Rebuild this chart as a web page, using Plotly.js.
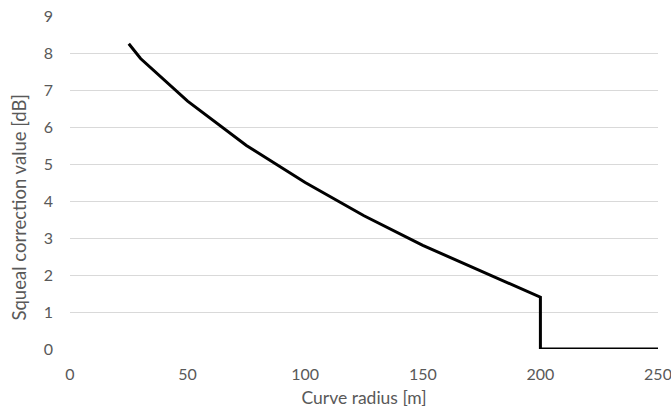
<!DOCTYPE html>
<html>
<head>
<meta charset="utf-8">
<script src="https://cdn.plot.ly/plotly-3.0.1.min.js"></script>
<style>html,body{margin:0;padding:0;background:#fff;}#chart{width:671px;height:410px;}</style>
</head>
<body>
<div id="chart"></div>
<script>
const radius = [25, 30, 50, 75, 100, 125, 150, 175, 200, 200, 250];
const correction = [8.25, 7.85, 6.7, 5.5, 4.5, 3.6, 2.8, 2.1, 1.4, 0, 0];
const xTicks = [0, 50, 100, 150, 200, 250];
const yTicks = [0, 1, 2, 3, 4, 5, 6, 7, 8, 9];
const xTitle = 'Curve radius [m]';
const yTitle = 'Squeal correction value [dB]';

const font = "Lato, 'Open Sans', sans-serif";
Plotly.newPlot('chart', [{
  x: radius, y: correction, type: 'scatter', mode: 'lines',
  line: {color: '#000000', width: 3}, hoverinfo: 'skip'
}], {
  width: 671, height: 410,
  margin: {l: 70, r: 13, t: 16, b: 61},
  paper_bgcolor: '#ffffff', plot_bgcolor: '#ffffff',
  showlegend: false,
  font: {family: font, size: 15, color: '#595959'},
  xaxis: {
    range: [0, 250], tickvals: xTicks, ticktext: xTicks.map(String),
    showgrid: false, zeroline: false, showline: false, ticks: '',
    ticklabelstandoff: 14, ticklabeloverflow: 'allow',
    tickfont: {size: 16, color: '#595959'},
    title: {text: xTitle, font: {size: 17.5, color: '#595959'}, standoff: 9}
  },
  yaxis: {
    range: [0, 9], tickvals: yTicks, ticktext: yTicks.map(String),
    showgrid: true, gridcolor: '#d9d9d9', gridwidth: 1,
    zeroline: false, showline: false, ticks: '',
    ticklabelstandoff: 16,
    tickfont: {size: 16, color: '#595959'}
  },
  annotations: [{
    text: yTitle, xref: 'paper', yref: 'paper', x: 0, y: 0.425,
    xanchor: 'center', yanchor: 'middle', xshift: -51, textangle: -90,
    showarrow: false, font: {family: font, size: 18.5, color: '#595959'}
  }]
}, {displayModeBar: false, staticPlot: true});
</script>
</body>
</html>
